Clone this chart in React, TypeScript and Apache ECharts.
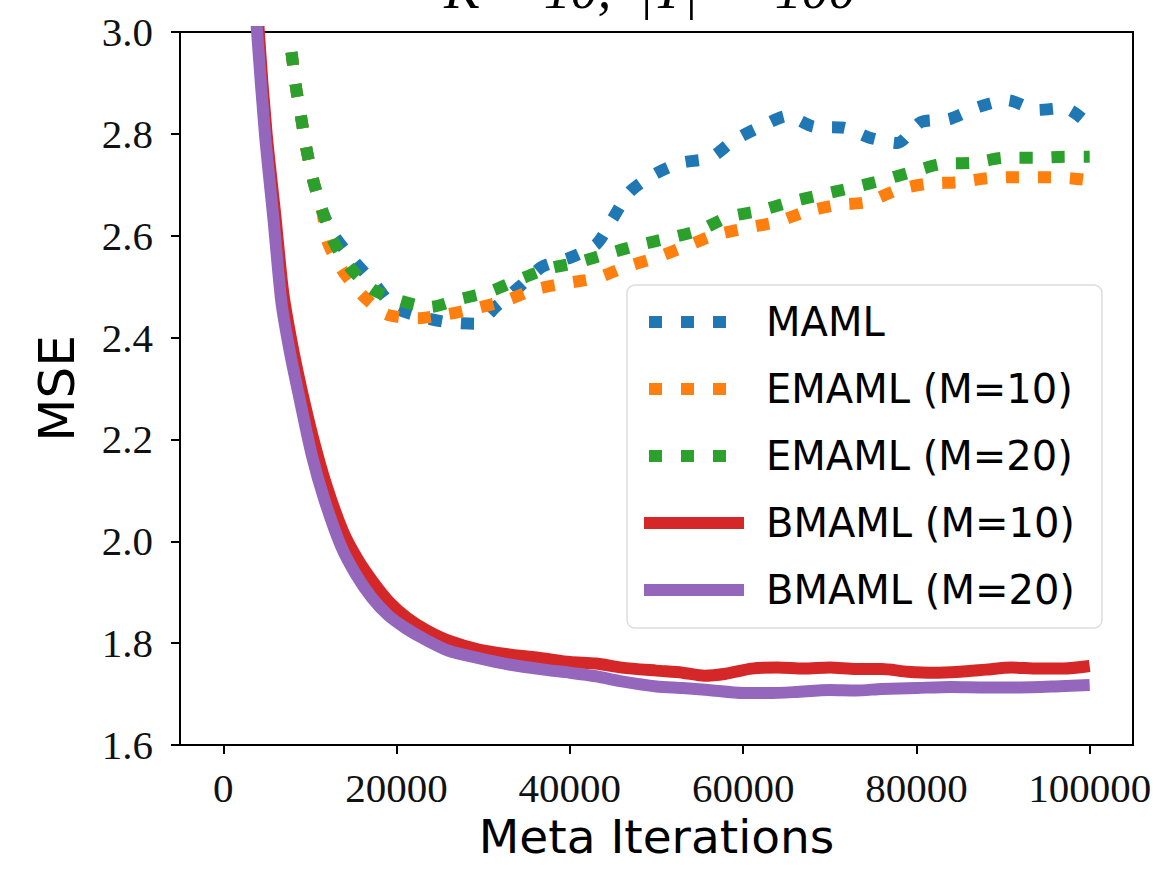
import React, { useEffect, useRef } from "react";
import * as echarts from "echarts";

const seriesNames = ["MAML", "EMAML (M=10)", "EMAML (M=20)", "BMAML (M=10)", "BMAML (M=20)"];
const seriesColors = ["#1f77b4", "#ff7f0e", "#2ca02c", "#d62728", "#9467bd"];
const xTicks = [0, 20000, 40000, 60000, 80000, 100000];

const mamlData = [
  [7800, 2.97], [8400, 2.89], [9000, 2.83], [9600, 2.77], [10400, 2.707], [11400, 2.65],
  [12600, 2.605], [14900, 2.554], [17400, 2.507], [19700, 2.46], [23000, 2.44], [25900, 2.43],
  [29000, 2.427], [31700, 2.464], [34200, 2.5], [36800, 2.539], [40200, 2.558], [43100, 2.584],
  [45000, 2.635], [46900, 2.686], [49800, 2.721], [52800, 2.743], [56200, 2.753], [59000, 2.788],
  [62000, 2.814], [65100, 2.835], [68200, 2.814], [71600, 2.812], [74700, 2.792], [77800, 2.782],
  [80500, 2.823], [83800, 2.829], [87200, 2.853], [90500, 2.866], [94000, 2.847], [97100, 2.851],
  [100000, 2.817],
];

const emaml10Data = [
  [7800, 2.97], [8400, 2.89], [9000, 2.83], [9600, 2.77], [10400, 2.707], [11400, 2.65],
  [12000, 2.59], [13700, 2.533], [16000, 2.484], [18800, 2.446], [22400, 2.438], [25900, 2.446],
  [29300, 2.458], [32800, 2.474], [36100, 2.495], [39600, 2.507], [43100, 2.517], [46500, 2.539],
  [50100, 2.558], [53500, 2.58], [56700, 2.601], [60300, 2.615], [63900, 2.627], [67200, 2.647],
  [70800, 2.66], [74300, 2.666], [77800, 2.69], [81200, 2.702], [84800, 2.705], [88300, 2.713],
  [91900, 2.715], [95600, 2.715], [99400, 2.71], [100000, 2.705],
];

const emaml20Data = [
  [7800, 2.97], [8400, 2.89], [9000, 2.83], [9600, 2.77], [10400, 2.707], [11400, 2.65],
  [12700, 2.59], [14500, 2.54], [17200, 2.495], [20100, 2.474], [23800, 2.46], [27400, 2.476],
  [30700, 2.49], [34000, 2.513], [37400, 2.535], [41000, 2.548], [44600, 2.566], [48000, 2.582],
  [51600, 2.596], [55000, 2.611], [58300, 2.637], [61900, 2.649], [65400, 2.666], [68900, 2.68],
  [72500, 2.694], [76100, 2.709], [79400, 2.725], [82900, 2.741], [86500, 2.743], [90200, 2.753],
  [93700, 2.753], [97300, 2.755], [100000, 2.755],
];

const bmaml10Data = [
  [0, 4.7], [2000, 3.6], [4100, 3.0], [5000, 2.8], [6000, 2.64], [6900, 2.49], [7900, 2.39],
  [9000, 2.3], [10400, 2.2], [11900, 2.11], [13800, 2.02], [15500, 1.965], [17300, 1.92],
  [19200, 1.88], [21200, 1.85], [23400, 1.826], [26000, 1.805], [29600, 1.787], [33000, 1.778],
  [37000, 1.77], [40000, 1.763], [43000, 1.76], [46000, 1.752], [50000, 1.746], [53000, 1.742],
  [55500, 1.736], [58000, 1.74], [61000, 1.75], [64000, 1.752], [67000, 1.75], [70000, 1.752],
  [73000, 1.749], [76000, 1.749], [79000, 1.744], [82000, 1.742], [85000, 1.744], [88000, 1.748],
  [91000, 1.752], [94000, 1.75], [97000, 1.75], [100000, 1.755],
];

const bmaml20Data = [
  [0, 4.6], [2000, 3.5], [3900, 3.0], [4800, 2.8], [5800, 2.63], [6700, 2.47], [7700, 2.37],
  [8800, 2.28], [10200, 2.17], [11700, 2.08], [13600, 1.99], [15300, 1.935], [17100, 1.89],
  [19000, 1.855], [21000, 1.83], [23200, 1.808], [26000, 1.785], [29600, 1.77], [33000, 1.758],
  [37000, 1.748], [40000, 1.742], [43000, 1.735], [46000, 1.725], [50000, 1.715], [53000, 1.712],
  [56000, 1.708], [60000, 1.702], [63000, 1.702], [66000, 1.704], [70000, 1.708], [73000, 1.707],
  [76000, 1.71], [80000, 1.712], [84000, 1.714], [88000, 1.713], [92000, 1.713], [96000, 1.715],
  [100000, 1.718],
];

const allData = [mamlData, emaml10Data, emaml20Data, bmaml10Data, bmaml20Data];
const dotted = [true, true, true, false, false];

export default function App() {
  const ref = useRef<HTMLDivElement>(null);
  useEffect(() => {
    document.body.style.margin = "0";
    const chart = echarts.init(ref.current!, null, { renderer: "svg" });
    const series = seriesNames.map((name, i) => ({
      name,
      type: "line",
      data: allData[i],
      symbol: "none",
      showSymbol: false,
      smooth: 0.25,
      clip: true,
      color: seriesColors[i],
      lineStyle: {
        color: seriesColors[i],
        width: 12,
        type: dotted[i] ? [13, 19] : "solid",
        dashOffset: dotted[i] ? -5 : 0,
        cap: "butt",
        join: "round",
      },
      z: 2 + i,
    }));
    chart.setOption({
      animation: false,
      backgroundColor: "#fff",
      grid: {
        left: 180,
        right: 25,
        top: 32,
        bottom: 126,
        show: true,
        borderColor: "#000",
        borderWidth: 2,
        backgroundColor: "transparent",
      },
      graphic: [
        {
          type: "text",
          x: 650,
          y: -10,
          style: {
            text: "K = 10,  |T|  = 100",
            font: "italic 54px 'Liberation Serif'",
            fill: "#000",
            textAlign: "center",
            textVerticalAlign: "middle",
          },
        },
      ],
      legend: {
        orient: "vertical",
        left: 627,
        top: 285,
        padding: [17, 27, 18, 11],
        itemWidth: 100,
        itemHeight: 13,
        itemGap: 27,
        backgroundColor: "rgba(255,255,255,0.85)",
        borderColor: "#dddddd",
        borderWidth: 1.5,
        borderRadius: 8,
        itemStyle: { opacity: 0, borderWidth: 0 },
        lineStyle: { width: "inherit", type: "inherit", dashOffset: "inherit" },
        textStyle: {
          fontFamily: "DejaVu Sans",
          fontSize: 40,
          color: "#000",
          padding: [0, 0, 0, 17],
        },
        data: seriesNames,
      },
      xAxis: {
        type: "value",
        min: -5000,
        max: 105000,
        name: "Meta Iterations",
        nameLocation: "middle",
        nameGap: 66,
        nameTextStyle: { fontFamily: "DejaVu Sans", fontSize: 47, color: "#000" },
        axisLine: { show: false, onZero: false },
        axisTick: { show: true, length: 9, lineStyle: { color: "#000", width: 2 }, customValues: xTicks },
        axisLabel: {
          customValues: xTicks,
          margin: 22,
          fontFamily: "Liberation Serif",
          fontSize: 41,
          color: "#111",
          formatter: (v: number) => String(Math.round(v)),
        },
        splitLine: { show: false },
      },
      yAxis: {
        type: "value",
        min: 1.6,
        max: 3.0,
        interval: 0.2,
        name: "MSE",
        nameLocation: "middle",
        nameGap: 98,
        nameRotate: 90,
        nameTextStyle: { fontFamily: "DejaVu Sans", fontSize: 50, color: "#000" },
        axisLine: { show: false, onZero: false },
        axisTick: { show: true, length: 9, lineStyle: { color: "#000", width: 2 } },
        axisLabel: {
          margin: 27,
          fontFamily: "Liberation Serif",
          fontSize: 41,
          color: "#111",
          formatter: (v: number) => v.toFixed(1),
        },
        splitLine: { show: false },
      },
      series,
    });
    return () => chart.dispose();
  }, []);
  return <div ref={ref} style={{ width: 1158, height: 871 }} />;
}
